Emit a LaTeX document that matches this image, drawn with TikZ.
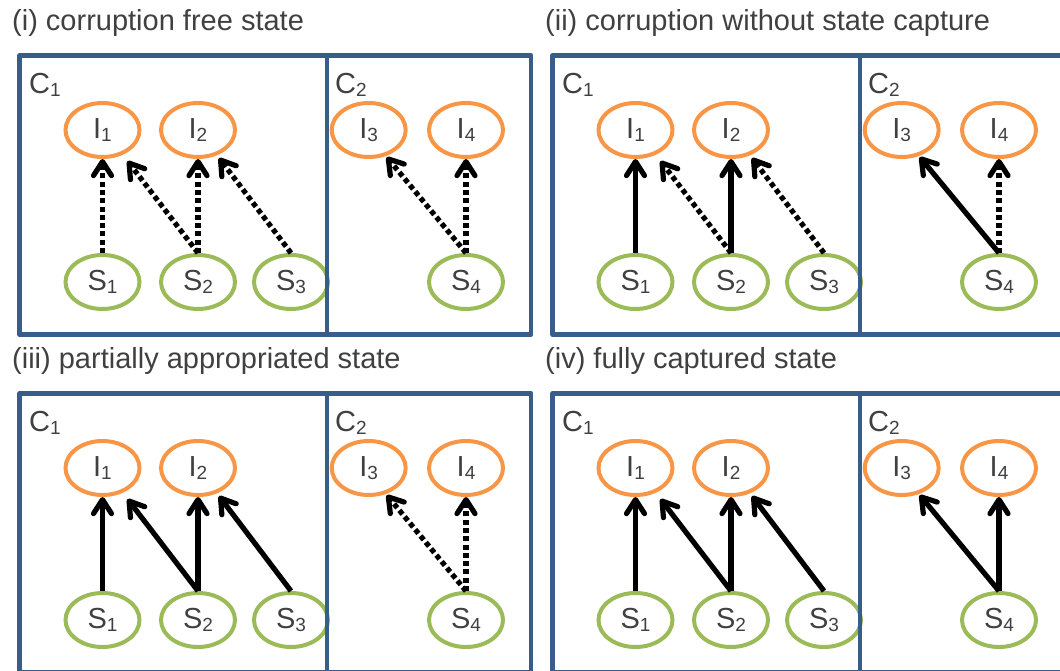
\documentclass[tikz,border=0pt]{standalone}
\usepackage{fontspec}
\setmainfont{Liberation Sans}
\usetikzlibrary{arrows.meta,calc,shapes.geometric}
\definecolor{boxblue}{HTML}{385D8A}
\definecolor{iorange}{HTML}{F79646}
\definecolor{sgreen}{HTML}{9BBB59}
\definecolor{txtgray}{HTML}{404040}
\newcommand{\mysub}[1]{\raisebox{-3.5pt}{\fontsize{19}{19}\selectfont #1}}
\tikzset{
  nodefont/.style={text=txtgray, font=\fontsize{29}{29}\selectfont},
  ttl/.style={nodefont, anchor=base west, inner sep=0pt},
  clabel/.style={nodefont, anchor=base west, inner sep=0pt},
  inode/.style={ellipse, draw=iorange, line width=4pt, minimum width=74pt, minimum height=54pt, inner sep=0pt, nodefont},
  snode/.style={ellipse, draw=sgreen, line width=4pt, minimum width=74pt, minimum height=54pt, inner sep=0pt, nodefont},
  boxline/.style={draw=boxblue, line width=4.5pt, line join=round},
  sol/.style={draw=black, line width=5.2pt, line cap=butt, -{Straight Barb[length=14pt,width=18pt,round]}},
  dot/.style={sol, dash pattern=on 5pt off 3.3pt}
}
\newcommand{\drawpanel}[3]{%
  \begin{scope}[shift={#2}]
    \node[ttl] (#1t) at (12,30) {#3};
    \node[inode] (#1I1) at (102.5,130) {I\mysub{1}};
    \node[inode] (#1I2) at (198,130) {I\mysub{2}};
    \node[inode] (#1I3) at (368.7,130) {I\mysub{3}};
    \node[inode] (#1I4) at (466,130) {I\mysub{4}};
    \node[snode] (#1S1) at (102.5,282) {S\mysub{1}};
    \node[snode] (#1S2) at (198,282) {S\mysub{2}};
    \node[snode] (#1S3) at (291,282) {S\mysub{3}};
    \node[snode] (#1S4) at (466,282) {S\mysub{4}};
    \node[clabel] (#1C1) at (29,93) {C\mysub{1}};
    \node[clabel] (#1C2) at (335,93) {C\mysub{2}};
    \draw[boxline] (19.7,55.3) rectangle (327,334.7);
    \draw[boxline] (327,55.3) rectangle (531,334.7);
  \end{scope}}
\newcommand{\drawarrows}[7]{%
  \draw[#2] (#1S1.north) -- (#1I1.south);
  \draw[#3] (#1S2.north) -- ($(#1I1)+(25,31)$);
  \draw[#4] (#1S2.north) -- (#1I2.south);
  \draw[#5] (#1S3.north) -- ($(#1I2)+(21,28)$);
  \draw[#6] (#1S4.north) -- ($(#1I3)+(18,27)$);
  \draw[#7] (#1S4.north) -- (#1I4.south);}
\begin{document}
\begin{tikzpicture}[x=1pt,y=-1pt]
  \useasboundingbox (0,0) rectangle (1060,670);
  \clip (0,0) rectangle (1060,670);
  \drawpanel{a}{(0,0)}{(i) corruption free state}
  \drawpanel{b}{(533,0)}{(ii) corruption without state capture}
  \drawpanel{c}{(0,338)}{(iii) partially appropriated state}
  \drawpanel{d}{(533,338)}{(iv) fully captured state}
  \drawarrows{a}{dot}{dot}{dot}{dot}{dot}{dot}
  \drawarrows{b}{sol}{dot}{sol}{dot}{sol}{dot}
  \drawarrows{c}{sol}{sol}{sol}{sol}{dot}{dot}
  \drawarrows{d}{sol}{sol}{sol}{sol}{sol}{sol}
\end{tikzpicture}
\end{document}
